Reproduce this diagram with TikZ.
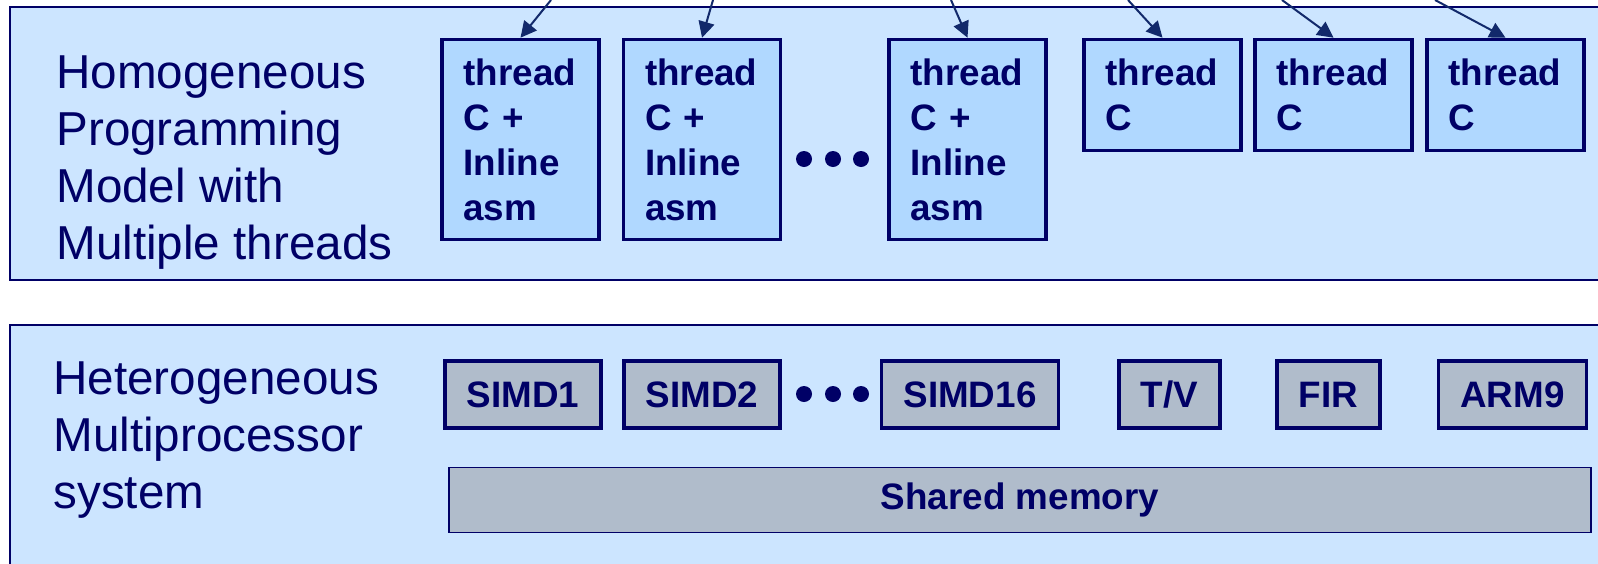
\documentclass[tikz,border=0pt]{standalone}
\usepackage{fontspec}
\setmainfont{Liberation Sans}
\usetikzlibrary{arrows.meta,positioning}
\definecolor{MPnavy}{HTML}{000066}
\definecolor{MPpanel}{HTML}{CCE5FF}
\definecolor{MPthread}{HTML}{B0D8FF}
\definecolor{MPcore}{HTML}{B0BCCB}
\definecolor{MParrow}{HTML}{12296B}
\tikzset{
  mp/panel/.style={draw=MPnavy, line width=1pt, fill=MPpanel},
  mp/label/.style={anchor=west, inner sep=0pt, align=left, text=MPnavy, font=\fontsize{23.8}{28.5}\selectfont},
  mp/box/.style={draw=MPnavy, line width=1.8pt, text=MPnavy, font=\fontsize{18.4}{22.5}\selectfont\bfseries},
  mp/thread/.style={mp/box, fill=MPthread, text width=57pt, inner xsep=10.8pt, align=left, minimum height=100pt},
  mp/shortthread/.style={mp/thread, minimum height=55.5pt},
  mp/core/.style={mp/box, fill=MPcore, inner xsep=11pt, minimum height=33.5pt},
  mp/memory/.style={mp/box, line width=0.8pt, fill=MPcore, minimum width=571pt, minimum height=32.5pt},
  mp/arrow/.style={draw=MParrow, line width=1pt, -{Triangle[length=8pt,width=8pt]}},
  mp/dot/.style={fill=MPnavy, circle, inner sep=0pt, minimum size=8pt}
}
\begin{document}
\begin{tikzpicture}[x=0.5pt, y=-0.5pt]
  \clip (0,0) rectangle (1598,563);
  % two panels
  \path[mp/panel] (10,7) rectangle (1620,280);
  \path[mp/panel] (10,325) rectangle (1620,600);

  % programming model
  \node[mp/label] (homlabel) at (56,163) {Homogeneous\\Programming\\Model with\\Multiple threads};
  \node[mp/thread] (t1) at (520.5,139.5) {thread\\C +\\Inline\\asm};
  \node[mp/thread] (t2) at (702,139.5) {thread\\C +\\Inline\\asm};
  \node[mp/dot] (tdot1) at (804,159) {};
  \node[mp/dot] (tdot2) at (833,159) {};
  \node[mp/dot] (tdot3) at (861,159) {};
  \node[mp/thread] (t16) at (967.5,139.5) {thread\\C +\\Inline\\asm};
  \node[mp/shortthread] (ttv) at (1162.5,95) {thread\\C};
  \node[mp/shortthread] (tfir) at (1333.5,95) {thread\\C};
  \node[mp/shortthread] (tarm) at (1505.5,95) {thread\\C};

  \coordinate (src1) at (551,0);
  \coordinate (src2) at (713,0);
  \coordinate (src16) at (951,0);
  \coordinate (srctv) at (1128,0);
  \coordinate (srcfir) at (1282,0);
  \coordinate (srcarm) at (1435,0);
  \draw[mp/arrow] (src1) -- (t1.north);
  \draw[mp/arrow] (src2) -- (t2.north);
  \draw[mp/arrow] (src16) -- (t16.north);
  \draw[mp/arrow] (srctv) -- (ttv.north);
  \draw[mp/arrow] (srcfir) -- (tfir.north);
  \draw[mp/arrow] (srcarm) -- (tarm.north);

  % multiprocessor system
  \node[mp/label] (hetlabel) at (53,440) {Heterogeneous\\Multiprocessor\\system};
  \node[mp/core] (simd1) at (523,394.5) {SIMD1};
  \node[mp/core] (simd2) at (702,394.5) {SIMD2};
  \node[mp/dot] (cdot1) at (804,394) {};
  \node[mp/dot] (cdot2) at (833,394) {};
  \node[mp/dot] (cdot3) at (861,394) {};
  \node[mp/core] (simd16) at (970,394.5) {SIMD16};
  \node[mp/core] (tv) at (1169.5,394.5) {T/V};
  \node[mp/core] (fir) at (1328.5,394.5) {FIR};
  \node[mp/core] (arm) at (1512.5,394.5) {ARM9};
  \node[mp/memory] (shmem) at (1020,500) {Shared memory};
\end{tikzpicture}
\end{document}
